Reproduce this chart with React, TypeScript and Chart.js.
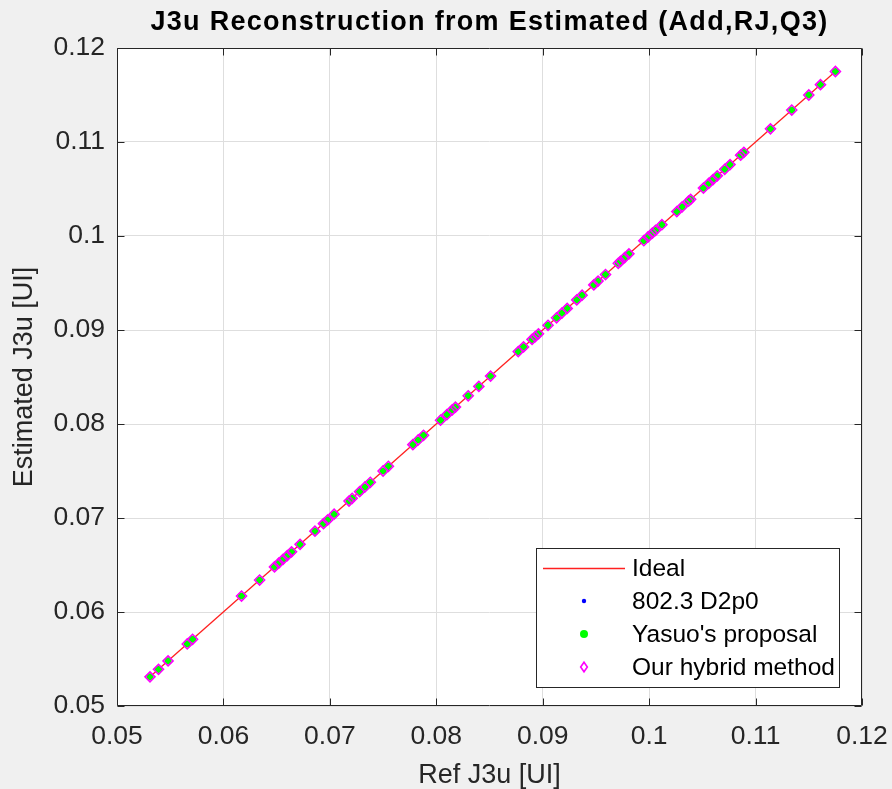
import React, { useEffect, useRef } from "react";
import { Chart, registerables } from "chart.js";

Chart.register(...registerables);

const chartTitle = "J3u Reconstruction from Estimated (Add,RJ,Q3)";
const xAxisTitle = "Ref J3u [UI]";
const yAxisTitle = "Estimated J3u [UI]";
const tickValues = [0.05, 0.06, 0.07, 0.08, 0.09, 0.1, 0.11, 0.12];
const tickLabels = ["0.05", "0.06", "0.07", "0.08", "0.09", "0.1", "0.11", "0.12"];
const seriesLabels = ["Ideal", "802.3 D2p0", "Yasuo's proposal", "Our hybrid method"];

const refJ3u = [
  0.0531, 0.0539, 0.0548, 0.0566, 0.0571, 0.0617, 0.0634, 0.0648, 0.0652, 0.0656,
  0.066, 0.0664, 0.0672, 0.0686, 0.0694, 0.0698, 0.0704, 0.0718, 0.0721, 0.0728,
  0.0733, 0.0738, 0.075, 0.0755, 0.0778, 0.0783, 0.0788, 0.0804, 0.081, 0.0815,
  0.0818, 0.083, 0.084, 0.0851, 0.0877, 0.0882, 0.089, 0.0893, 0.0896, 0.0905,
  0.0913, 0.0918, 0.0923, 0.0932, 0.0937, 0.0948, 0.0952, 0.0959, 0.0971, 0.0973,
  0.0977, 0.0981, 0.0995, 0.0999, 0.1003, 0.1006, 0.1012, 0.1026, 0.1031, 0.1037,
  0.1039, 0.1051, 0.1056, 0.106, 0.1064, 0.1071, 0.1076, 0.1086, 0.1089, 0.1114,
  0.1134, 0.115, 0.1161, 0.1175,
];

const estimatedJ3u = [
  0.0531, 0.0539, 0.0548, 0.0566, 0.0571, 0.0617, 0.0634, 0.0648, 0.0652, 0.0656,
  0.066, 0.0664, 0.0672, 0.0686, 0.0694, 0.0698, 0.0704, 0.0718, 0.0721, 0.0728,
  0.0733, 0.0738, 0.075, 0.0755, 0.0778, 0.0783, 0.0788, 0.0804, 0.081, 0.0815,
  0.0818, 0.083, 0.084, 0.0851, 0.0877, 0.0882, 0.089, 0.0893, 0.0896, 0.0905,
  0.0913, 0.0918, 0.0923, 0.0932, 0.0937, 0.0948, 0.0952, 0.0959, 0.0971, 0.0973,
  0.0977, 0.0981, 0.0995, 0.0999, 0.1003, 0.1006, 0.1012, 0.1026, 0.1031, 0.1037,
  0.1039, 0.1051, 0.1056, 0.106, 0.1064, 0.1071, 0.1076, 0.1086, 0.1089, 0.1114,
  0.1134, 0.115, 0.1161, 0.1175,
];

const idealRef = [0.0531, 0.1175];
const idealEst = [0.0531, 0.1175];

const FONT = "'Liberation Sans', Arial, Helvetica, sans-serif";
const INK = "#262626";

const toPoints = (xs: number[], ys: number[]) => xs.map((x, i) => ({ x, y: ys[i] }));

const bgPlugin = {
  id: "plotBg",
  beforeDraw(chart: any) {
    const { ctx, chartArea: a } = chart;
    ctx.save();
    ctx.fillStyle = "#ffffff";
    ctx.fillRect(a.left, a.top, a.right - a.left, a.bottom - a.top);
    ctx.restore();
  },
};

const framePlugin = {
  id: "frameTicks",
  afterDatasetsDraw(chart: any) {
    const { ctx, chartArea: a, scales } = chart;
    ctx.save();
    ctx.strokeStyle = INK;
    ctx.lineWidth = 1;
    const L = Math.round(a.left) + 0.5;
    const R = Math.round(a.right) - 0.5;
    const T = Math.round(a.top) + 0.5;
    const B = Math.round(a.bottom) - 0.5;
    ctx.beginPath();
    ctx.rect(L, T, R - L, B - T);
    const tl = 7;
    scales.x.ticks.forEach((t: any) => {
      const px = Math.round(scales.x.getPixelForValue(t.value)) + 0.5;
      ctx.moveTo(px, B);
      ctx.lineTo(px, B - tl);
      ctx.moveTo(px, T);
      ctx.lineTo(px, T + tl);
    });
    scales.y.ticks.forEach((t: any) => {
      const py = Math.round(scales.y.getPixelForValue(t.value)) + 0.5;
      ctx.moveTo(L, py);
      ctx.lineTo(L + tl, py);
      ctx.moveTo(R, py);
      ctx.lineTo(R - tl, py);
    });
    ctx.stroke();
    ctx.restore();
  },
};

const titlePlugin = {
  id: "matTitle",
  afterDraw(chart: any) {
    const { ctx, chartArea: a } = chart;
    ctx.save();
    ctx.font = `bold 27px ${FONT}`;
    (ctx as any).letterSpacing = "1.3px";
    ctx.fillStyle = "#000000";
    ctx.textAlign = "center";
    ctx.textBaseline = "middle";
    ctx.fillText(chartTitle, (a.left + a.right) / 2, a.top - 25);
    ctx.restore();
  },
};

function drawMarker(ctx: CanvasRenderingContext2D, ds: any, x: number, y: number) {
  const style = ds.pointStyle;
  const r = ds.pointRadius;
  ctx.save();
  ctx.lineWidth = ds.pointBorderWidth;
  ctx.strokeStyle = ds.pointBorderColor;
  ctx.fillStyle = ds.pointBackgroundColor;
  ctx.beginPath();
  if (style === "rectRot") {
    ctx.moveTo(x, y - r * 1.15);
    ctx.lineTo(x + r * 0.8, y);
    ctx.lineTo(x, y + r * 1.15);
    ctx.lineTo(x - r * 0.8, y);
    ctx.closePath();
    ctx.stroke();
  } else {
    ctx.arc(x, y, r, 0, Math.PI * 2);
    ctx.fill();
  }
  ctx.restore();
}

const legendPlugin = {
  id: "matLegend",
  afterDraw(chart: any) {
    const { ctx, chartArea: a } = chart;
    const right = a.right - 23;
    const bottom = a.bottom - 19;
    const w = 303;
    const h = 139;
    const left = right - w;
    const top = bottom - h;
    ctx.save();
    ctx.fillStyle = "#ffffff";
    ctx.fillRect(left, top, w, h);
    ctx.strokeStyle = INK;
    ctx.lineWidth = 1;
    ctx.strokeRect(Math.round(left) + 0.5, Math.round(top) + 0.5, w, h);
    ctx.font = `24.5px ${FONT}`;
    ctx.fillStyle = "#000000";
    ctx.textBaseline = "middle";
    ctx.textAlign = "left";
    const rowH = 33;
    const firstY = top + 20;
    chart.data.datasets.forEach((ds: any, i: number) => {
      const y = firstY + i * rowH;
      if (ds.showLine) {
        ctx.save();
        ctx.strokeStyle = ds.borderColor;
        ctx.lineWidth = ds.borderWidth;
        ctx.beginPath();
        ctx.moveTo(left + 7, y + 0.5);
        ctx.lineTo(left + 89, y + 0.5);
        ctx.stroke();
        ctx.restore();
      } else {
        const legDs = { ...ds, pointRadius: ds.legendRadius ?? ds.pointRadius };
        drawMarker(ctx, legDs, left + 48, y);
      }
      ctx.fillStyle = "#000000";
      ctx.fillText(ds.label, left + 96, y + 1);
    });
    ctx.restore();
  },
};

export default function App() {
  const canvasRef = useRef<HTMLCanvasElement | null>(null);

  useEffect(() => {
    if (!canvasRef.current) return;
    const chart = new Chart(canvasRef.current, {
      type: "scatter",
      data: {
        datasets: [
          {
            label: seriesLabels[0],
            data: toPoints(idealRef, idealEst),
            showLine: true,
            borderColor: "#ff2020",
            borderWidth: 1.3,
            pointRadius: 0,
            order: 4,
          } as any,
          {
            label: seriesLabels[1],
            data: toPoints(refJ3u, estimatedJ3u),
            showLine: false,
            pointStyle: "circle",
            pointRadius: 1.6,
            legendRadius: 2.2,
            pointBackgroundColor: "#0000ff",
            pointBorderColor: "#0000ff",
            pointBorderWidth: 0,
            order: 3,
          } as any,
          {
            label: seriesLabels[2],
            data: toPoints(refJ3u, estimatedJ3u),
            showLine: false,
            pointStyle: "circle",
            pointRadius: 3.6,
            legendRadius: 4,
            pointBackgroundColor: "#00ff00",
            pointBorderColor: "#00ff00",
            pointBorderWidth: 0,
            order: 2,
          } as any,
          {
            label: seriesLabels[3],
            data: toPoints(refJ3u, estimatedJ3u),
            showLine: false,
            pointStyle: "rectRot",
            pointRadius: 5,
            legendRadius: 4.2,
            pointBackgroundColor: "rgba(0,0,0,0)",
            pointBorderColor: "#ff00ff",
            pointBorderWidth: 1.6,
            order: 1,
          } as any,
        ],
      },
      options: {
        responsive: false,
        devicePixelRatio: 1,
        animation: false,
        layout: { padding: { left: 0, right: 30, top: 48, bottom: 0 } },
        plugins: {
          legend: { display: false },
          title: { display: false },
          tooltip: { enabled: false },
        },
        scales: {
          x: {
            type: "linear",
            min: 0.05,
            max: 0.12,
            afterBuildTicks: (s: any) => {
              s.ticks = tickValues.map((v) => ({ value: v }));
            },
            afterFit: (s: any) => {
              s.height = 83;
              s.paddingLeft = 0;
              s.paddingRight = 0;
            },
            ticks: {
              callback: (_v: any, i: number) => tickLabels[i],
              font: { family: FONT, size: 26.5 },
              color: INK,
              padding: 15,
              maxRotation: 0,
              autoSkip: false,
            },
            grid: { color: "#dedede", lineWidth: 1, drawTicks: false },
            border: { display: false },
            title: {
              display: true,
              text: xAxisTitle,
              font: { family: FONT, size: 27 },
              color: INK,
              padding: { top: 0, bottom: -3 },
            },
          },
          y: {
            type: "linear",
            min: 0.05,
            max: 0.12,
            afterBuildTicks: (s: any) => {
              s.ticks = tickValues.map((v) => ({ value: v }));
            },
            afterFit: (s: any) => {
              s.width = 117;
              s.paddingTop = 0;
              s.paddingBottom = 0;
            },
            ticks: {
              callback: (_v: any, i: number) => tickLabels[i],
              font: { family: FONT, size: 26.5 },
              color: INK,
              padding: 12,
              autoSkip: false,
            },
            grid: { color: "#dedede", lineWidth: 1, drawTicks: false },
            border: { display: false },
            title: {
              display: true,
              text: yAxisTitle,
              font: { family: FONT, size: 27 },
              color: INK,
              padding: { top: 8, bottom: 0 },
            },
          },
        },
      } as any,
      plugins: [bgPlugin, framePlugin, titlePlugin, legendPlugin],
    });
    return () => chart.destroy();
  }, []);

  return (
    <div
      style={{
        position: "fixed",
        left: 0,
        top: 0,
        width: 892,
        height: 789,
        background: "#f0f0f0",
      }}
    >
      <canvas ref={canvasRef} width={892} height={789} style={{ display: "block" }} />
    </div>
  );
}
